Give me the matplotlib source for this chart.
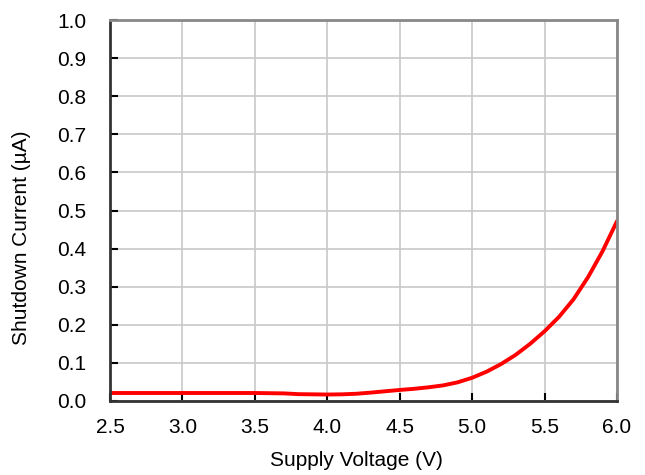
import matplotlib
matplotlib.use("Agg")
import matplotlib.pyplot as plt

plt.rcParams['font.family'] = ['Liberation Sans', 'DejaVu Sans']

voltage = [2.5, 3.0, 3.5, 3.7, 3.8, 4.0, 4.1, 4.2, 4.3, 4.4, 4.5, 4.6, 4.7, 4.8, 4.9,
           5.0, 5.1, 5.2, 5.3, 5.4, 5.5, 5.6, 5.7, 5.8, 5.9, 6.0]
current = [0.021, 0.021, 0.021, 0.020, 0.018, 0.017, 0.0175, 0.019, 0.022, 0.0255, 0.029, 0.032,
           0.036, 0.041, 0.049, 0.061, 0.077, 0.097, 0.121, 0.150, 0.183, 0.221, 0.267,
           0.325, 0.393, 0.472]

xticks = [2.5, 3.0, 3.5, 4.0, 4.5, 5.0, 5.5, 6.0]
yticks = [0.0, 0.1, 0.2, 0.3, 0.4, 0.5, 0.6, 0.7, 0.8, 0.9, 1.0]

W, H = 645, 475
fig = plt.figure(figsize=(W/100, H/100), dpi=100)
L, R, T, B = 110, 617, 20, 401
ax = fig.add_axes([L/W, 1 - B/H, (R-L)/W, (B-T)/H])

ax.plot(voltage, current, color='#ff0000', lw=2.8, solid_capstyle='round',
        solid_joinstyle='round')

ax.set_xlim(2.5, 6.0)
ax.set_ylim(0, 1.0)
ax.set_xticks(xticks)
ax.set_yticks(yticks)
fs = 15
ax.set_xticklabels([f"{v:.1f}" for v in xticks], fontsize=fs)
ax.set_yticklabels([f"{v:.1f}" for v in yticks], fontsize=fs)
ax.grid(True, color='#c8c8c8', lw=1.2)
ax.set_axisbelow(True)
ax.tick_params(direction='in', length=6, width=1.5, color='black')
ax.tick_params(axis='y', pad=17)
ax.tick_params(axis='x', pad=12)

for s in ['left', 'bottom']:
    ax.spines[s].set_color('#333333')
    ax.spines[s].set_linewidth(2)
for s in ['top', 'right']:
    ax.spines[s].set_color('#888888')
    ax.spines[s].set_linewidth(2)

fig.text(356/W, 1 - 461/H, 'Supply Voltage (V)', fontsize=fs, ha='center', va='center')
fig.text(22/W, 1 - 238/H, 'Shutdown Current (µA)', fontsize=fs, ha='center',
         va='center', rotation=90)

fig.savefig('out.png', dpi=100)
